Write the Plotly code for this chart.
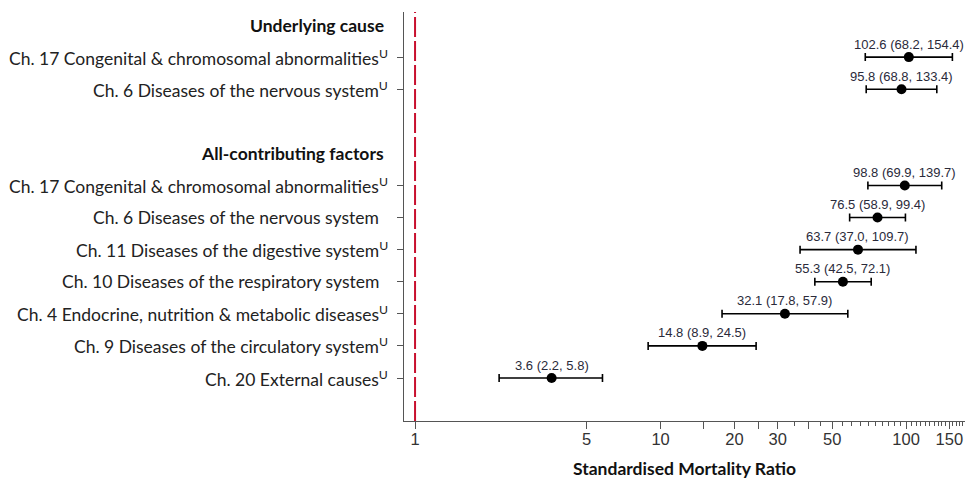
import math
import plotly.graph_objects as go

# ---- data ----
headers = ["Underlying cause", "All-contributing factors"]
header_slots = [0, 4]

labels = [
    "Ch. 17 Congenital & chromosomal abnormalities<sup>U</sup>",
    "Ch. 6 Diseases of the nervous system<sup>U</sup>",
    "Ch. 17 Congenital & chromosomal abnormalities<sup>U</sup>",
    "Ch. 6 Diseases of the nervous system  ",
    "Ch. 11 Diseases of the digestive system<sup>U</sup>",
    "Ch. 10 Diseases of the respiratory system  ",
    "Ch. 4 Endocrine, nutrition & metabolic diseases<sup>U</sup>",
    "Ch. 9 Diseases of the circulatory system<sup>U</sup>",
    "Ch. 20 External causes<sup>U</sup>",
]
slots = [1, 2, 5, 6, 7, 8, 9, 10, 11]
smr = [102.6, 95.8, 98.8, 76.5, 63.7, 55.3, 32.1, 14.8, 3.6]
lower = [68.2, 68.8, 69.9, 58.9, 37.0, 42.5, 17.8, 8.9, 2.2]
upper = [154.4, 133.4, 139.7, 99.4, 109.7, 72.1, 57.9, 24.5, 5.8]

tick_vals = [1, 5, 10, 15, 20, 25, 30, 40, 50, 100, 150]
tick_text = ["1", "5", "10", "", "20", "", "30", "", "50", "100", "150"]
minor_vals = [35, 45] + list(range(55, 100, 5)) + list(range(105, 150, 5)) + [155, 160, 165, 170]

LABEL_FONT = "Lato"
NUM_FONT = "Liberation Sans, Arial"

fig = go.Figure()
fig.add_trace(go.Scatter(
    x=smr, y=slots, mode="markers",
    marker=dict(color="black", size=10),
    error_x=dict(type="data", symmetric=False,
                 array=[u - s for u, s in zip(upper, smr)],
                 arrayminus=[s - l for s, l in zip(smr, lower)],
                 color="black", thickness=1.6, width=4),
    showlegend=False, hoverinfo="skip",
))

annotations = []
for s, l, u, y in zip(smr, lower, upper, slots):
    annotations.append(dict(
        x=math.log10(s), y=y, xref="x", yref="y", showarrow=False,
        text=f"{s:.1f} ({l:.1f}, {u:.1f})", yshift=13,
        font=dict(family=NUM_FONT, size=13, color="#2a2a3a"),
        xanchor="center", yanchor="middle"))
for lab, y in zip(labels, slots):
    annotations.append(dict(
        x=0, y=y, xref="paper", yref="y", showarrow=False,
        text=lab, xanchor="right", yanchor="middle", xshift=-14,
        font=dict(family=LABEL_FONT, size=17.5, color="#222")))
for h, y in zip(headers, header_slots):
    annotations.append(dict(
        x=0, y=y, xref="paper", yref="y", showarrow=False,
        text=f"<b>{h}</b>", xanchor="right", yanchor="middle", xshift=-18,
        font=dict(family=LABEL_FONT, size=17.5, color="#111")))

fig.add_shape(type="line", xref="x", yref="paper", x0=1, x1=1, y0=0, y1=1,
              line=dict(color="#C8102E", width=2, dash="20px,4px"))

fig.update_layout(
    width=968, height=479,
    margin=dict(l=404, r=3, t=12, b=58, autoexpand=False),
    plot_bgcolor="white", paper_bgcolor="white",
    annotations=annotations,
    xaxis=dict(
        type="log", range=[-0.045, 2.24], automargin=False,
        tickmode="array", tickvals=tick_vals, ticktext=tick_text,
        ticks="outside", ticklen=7, tickcolor="#555", tickwidth=1,
        minor=dict(tickmode="array", tickvals=minor_vals, ticks="outside",
                   ticklen=4, tickcolor="#555", showgrid=False),
        showline=True, linecolor="#555", linewidth=1,
        showgrid=False, zeroline=False,
        ticklabelstandoff=-4,
        tickfont=dict(family=NUM_FONT, size=16.5, color="#333"),
        title=dict(text="<b>Standardised Mortality Ratio</b>", standoff=24,
                   font=dict(family=LABEL_FONT, size=17.5, color="#111")),
    ),
    yaxis=dict(
        range=[12.34, -0.405], automargin=False,
        tickmode="array", tickvals=slots, ticktext=[""] * len(slots),
        ticks="outside", ticklen=6, tickcolor="#555",
        showline=True, linecolor="#555", linewidth=1,
        showgrid=False, zeroline=False,
    ),
)

fig.write_html(
    "out.html",
    config={"displayModeBar": False},
    post_script="document.body.style.margin='0';document.body.style.overflow='hidden';",
)
